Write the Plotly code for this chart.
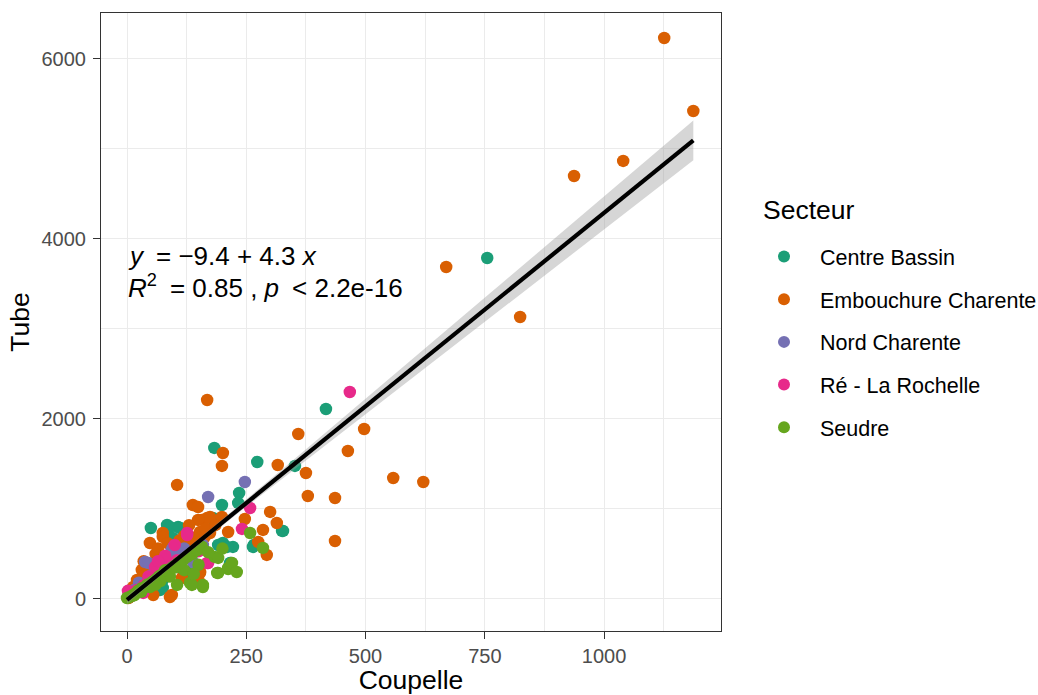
import numpy as np
import plotly.graph_objects as go

sectors = ["Centre Bassin", "Embouchure Charente", "Nord Charente", "Ré - La Rochelle", "Seudre"]
colors = ["#1B9E77", "#D95F02", "#7570B3", "#E7298A", "#66A61E"]

cb_x = [12, 18, 22, 28, 33, 38, 44, 48, 52, 58, 62, 66, 72, 78, 82, 88, 92, 98, 104, 108, 114, 118, 124, 128, 134, 138, 144, 148, 154, 8, 4, 14, 26, 36, 46, 56, 68, 76, 86, 96,
        755, 417, 183, 273, 352, 235, 233, 199, 325, 266, 218, 222, 201, 210, 191, 50, 86, 107, 90, 180, 184, 157, 96, 63, 117, 42, 75, 69, 75, 117, 111, 84, 216, 327, 264, 30, 20, 55, 130, 145, 10, 160, 100, 35, 5, 88, 125, 60]
cb_y = [60, 70, 110, 130, 160, 150, 200, 230, 210, 260, 290, 270, 320, 330, 360, 400, 390, 430, 460, 440, 500, 520, 540, 560, 580, 600, 620, 640, 660, 30, 15, 45, 95, 170, 190, 240, 300, 350, 370, 410,
        3789, 2111, 1678, 1522, 1478, 1178, 1067, 1044, 756, 600, 400, 578, 622, 578, 600, 789, 789, 800, 800, 900, 856, 744, 678, 456, 322, 244, 211, 100, 122, 467, 789, 822, 400, 756, 578, 150, 80, 300, 520, 650, 40, 560, 420, 200, 20, 380, 300, 250]

ec_x = [6, 9, 16, 19, 24, 27, 32, 37, 41, 47, 51, 54, 57, 63, 67, 71, 74, 79, 83, 87, 91, 97, 102, 106, 111, 116, 121, 127, 132, 137, 142, 146, 151, 156, 161, 3, 11, 29, 39, 49, 59, 69, 81, 93, 103, 113, 123, 133, 143, 163,
        1126, 1187, 1040, 937, 669, 824, 497, 463, 558, 621, 436, 436, 359, 375, 379, 168, 201, 199, 316, 105, 138, 149, 300, 247, 314, 285, 293, 275, 212, 157, 174, 199, 168, 149, 75, 48, 105, 126, 147, 174, 80, 31, 153, 90, 21, 13, 55, 115, 153, 153, 94, 75, 153, 60, 40, 110, 95, 25, 8, 120, 70, 130, 165, 185, 18, 45, 100, 140, 65, 35, 85]
ec_y = [25, 40, 55, 85, 100, 120, 140, 165, 175, 205, 225, 240, 250, 275, 285, 310, 320, 345, 355, 380, 395, 420, 445, 455, 480, 495, 530, 550, 575, 590, 610, 630, 650, 680, 700, 10, 50, 115, 180, 215, 265, 295, 340, 405, 470, 505, 545, 560, 640, 690,
        6233, 5422, 4867, 4700, 3689, 3133, 1889, 1644, 1344, 1300, 1122, 644, 1833, 1400, 1144, 2211, 1622, 1478, 1489, 1267, 1044, 1022, 967, 889, 844, 767, 489, 633, 744, 878, 911, 911, 900, 878, 733, 622, 578, 600, 622, 733, 433, 322, 300, 22, 211, 133, 44, 233, 289, 178, 44, 689, 744, 500, 280, 650, 480, 150, 60, 700, 380, 820, 780, 820, 90, 350, 560, 680, 560, 420, 620]

nc_x = [7, 13, 21, 29, 37, 47, 57, 67, 77, 87, 99, 109,
        247, 170, 94, 138, 38, 6, 96, 84, 159, 25, 15, 60, 110, 75, 50, 3, 120, 45]
nc_y = [35, 55, 90, 125, 155, 195, 235, 280, 330, 365, 425, 470,
        1300, 1133, 544, 411, 411, 67, 567, 433, 600, 180, 100, 330, 480, 380, 260, 30, 560, 400]

rl_x = [4, 12, 19, 27, 35, 43, 53, 63, 73, 85, 95, 105,
        467, 258, 241, 168, 126, 59, 21, 34, 170, 126, 10, 80, 45, 100, 150, 2, 65]
rl_y = [25, 40, 75, 105, 150, 185, 215, 265, 300, 350, 400, 430,
        2300, 1011, 778, 400, 733, 356, 100, 67, 400, 711, 50, 480, 250, 600, 530, 90, 420]

se_x = [5, 10, 17, 23, 31, 39, 43, 53, 61, 67, 73, 81, 89, 97, 107, 117, 127, 137, 147, 157,
        285, 258, 212, 189, 159, 132, 159, 0, 48, 105, 184, 191, 212, 191, 136, 220, 90, 120, 150, 70, 30, 110, 170, 200, 60, 140, 15, 80, 100, 230]
se_y = [20, 35, 60, 90, 120, 140, 160, 190, 220, 250, 270, 300, 330, 360, 400, 430, 470, 500, 540, 580,
        567, 733, 333, 289, 133, 178, 156, 11, 133, 156, 467, 456, 344, 289, 156, 400, 250, 320, 380, 200, 80, 400, 520, 560, 160, 280, 40, 320, 350, 300]

xs_list = [cb_x, ec_x, nc_x, rl_x, se_x]
ys_list = [cb_y, ec_y, nc_y, rl_y, se_y]

intercept = -9.4
slope = 4.3

FONT = "Liberation Sans, Arial, Helvetica, sans-serif"

fig = go.Figure()

# regression band (95% CI of the fitted line) and line
all_x = np.array(sum(xs_list, []), dtype=float)
all_y = np.array(sum(ys_list, []), dtype=float)
n = len(all_x)
resid = all_y - (intercept + slope * all_x)
s = np.sqrt(np.sum(resid ** 2) / (n - 2))
xbar = all_x.mean()
sxx = np.sum((all_x - xbar) ** 2)
xg = np.linspace(all_x.min(), all_x.max(), 80)
yg = intercept + slope * xg
se = s * np.sqrt(1.0 / n + (xg - xbar) ** 2 / sxx)
upper = yg + 1.968 * se
lower = yg - 1.968 * se

for name, col, xs, ys in zip(sectors, colors, xs_list, ys_list):
    fig.add_trace(go.Scatter(
        x=xs, y=ys, mode="markers", name=name, legendgroup=name,
        marker=dict(color=col, size=12.5, line=dict(width=0)),
    ))

fig.add_trace(go.Scatter(
    x=np.concatenate([xg, xg[::-1]]), y=np.concatenate([upper, lower[::-1]]),
    fill="toself", fillcolor="rgba(153,153,153,0.4)", line=dict(width=0),
    mode="lines", showlegend=False, hoverinfo="skip",
))
fig.add_trace(go.Scatter(
    x=xg, y=yg, mode="lines", line=dict(color="black", width=4.2),
    showlegend=False, hoverinfo="skip",
))

EN = "\u2002"
fig.add_annotation(x=-3, y=3811, xref="x", yref="y", xanchor="left", yanchor="middle",
                   text="<i>y</i>" + EN + "= −9.4 + 4.3 <i>x</i>", showarrow=False,
                   font=dict(family=FONT, size=26, color="black"))
fig.add_annotation(x=-3, y=3467, xref="x", yref="y", xanchor="left", yanchor="middle",
                   text="<i>R</i><sup>2</sup>" + EN + "= 0.85 , <i>p</i>" + EN + "&lt; 2.2e-16", showarrow=False,
                   font=dict(family=FONT, size=26, color="black"))

# legend title (plot area spans x 101..721 px, y 13..631 px)
fig.add_annotation(x=(761 - 101) / 620, y=(631 - 210) / 618, xref="paper", yref="paper",
                   xanchor="left", yanchor="middle", text="Secteur", showarrow=False,
                   font=dict(family=FONT, size=26.5, color="black"))

axis_common = dict(
    showline=True, mirror=True, linecolor="#333333", linewidth=1,
    ticks="outside", ticklen=7, tickcolor="#333333", tickwidth=1,
    tickfont=dict(family=FONT, size=20, color="#4D4D4D"),
    showgrid=True, gridcolor="#EBEBEB", gridwidth=1.1, zeroline=False,
    automargin=False,
)

fig.update_layout(
    width=1038, height=695,
    margin=dict(l=101, r=317, t=13, b=64),
    paper_bgcolor="white", plot_bgcolor="white",
    font=dict(family=FONT),
    xaxis=dict(range=[-54.5, 1245], tickvals=[0, 250, 500, 750, 1000], ticklabelstandoff=0,
               title=dict(text="Coupelle", font=dict(family=FONT, size=26.5, color="black"), standoff=6),
               minor=dict(tickvals=[125, 375, 625, 875, 1125], showgrid=True, gridcolor="#EBEBEB", gridwidth=0.55, ticks=""),
               **axis_common),
    yaxis=dict(range=[-356, 6511], tickvals=[0, 2000, 4000, 6000], ticklabelstandoff=3,
               title=dict(text="Tube", font=dict(family=FONT, size=26.5, color="black"), standoff=4),
               minor=dict(tickvals=[1000, 3000, 5000], showgrid=True, gridcolor="#EBEBEB", gridwidth=0.55, ticks=""),
               **axis_common),
    legend=dict(
        font=dict(family=FONT, size=21.5, color="black"),
        xref="container", yref="container", x=748 / 1038, y=1 - 236 / 695, xanchor="left", yanchor="top",
        tracegroupgap=11.75, itemsizing="constant", itemwidth=62, bgcolor="rgba(0,0,0,0)",
    ),
)

fig.write_html("out.html")
